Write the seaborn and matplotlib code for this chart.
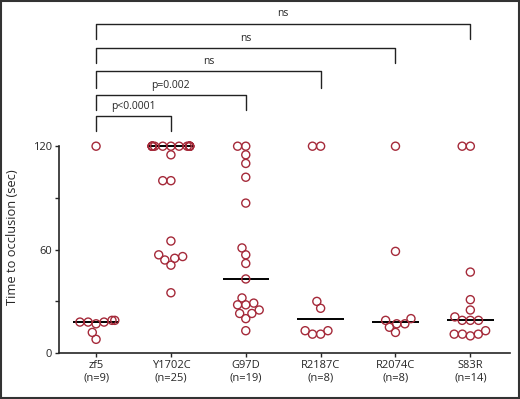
import matplotlib
matplotlib.use('Agg')
import matplotlib.pyplot as plt
import seaborn as sns
import numpy as np
import pandas as pd
from matplotlib.patches import Rectangle

# Time to occlusion (sec) per zebrafish line
groups = ['zf5', 'Y1702C', 'G97D', 'R2187C', 'R2074C', 'S83R']
zf5 = [120, 18, 19, 18, 19, 18, 17, 12, 8]
y1702c = [120] * 15 + [115, 100, 100, 65, 57, 56, 55, 54, 51, 35]
g97d = [120, 120, 115, 110, 102, 87, 61, 57, 52, 43, 32, 29, 28, 28, 25, 23, 23, 20, 13]
r2187c = [120, 120, 30, 26, 13, 11, 11, 13]
r2074c = [120, 59, 20, 19, 17, 17, 15, 12]
s83r = [120, 120, 47, 31, 25, 21, 19, 19, 19, 13, 11, 10, 11, 11]
values = [zf5, y1702c, g97d, r2187c, r2074c, s83r]

# significance brackets: (right group index, label, bar height, leg bottom)
comparisons = [(1, 'p<0.0001', 137.6, 128.7),
               (2, 'p=0.002', 149.6, 141),
               (3, 'ns', 163.6, 154),
               (4, 'ns', 177, 168),
               (5, 'ns', 191, 182)]

df = pd.DataFrame({'group': [g for g, v in zip(groups, values) for _ in v],
                   'time': [t for v in values for t in v]})
labels = ['{}\n(n={})'.format(g, len(v)) for g, v in zip(groups, values)]

sns.set_style('ticks')
plt.rcParams['font.family'] = ['Open Sans', 'DejaVu Sans']

fig = plt.figure(figsize=(5.2, 3.99), dpi=100)
ax = fig.add_axes([0.1135, 0.115, 0.868, 0.86])

red = '#a52a3a'
# lay the swarm out first, then freeze it
sns.swarmplot(data=df, x='group', y='time', order=groups, ax=ax, size=5.6,
              color=red, linewidth=0, warn_thresh=1)
ax.set_xlim(-0.495, 5.535)
ax.set_ylim(0, 199)
fig.canvas.draw()
for coll in ax.collections:
    # freeze the swarm positions, keep the spread narrow, then style markers
    if 'draw' in coll.__dict__:
        del coll.__dict__['draw']
    off = np.asarray(coll.get_offsets(), dtype=float)
    if len(off):
        mid = np.round(off[:, 0])
        off[:, 0] = mid + np.clip(off[:, 0] - mid, -0.25, 0.25)
        coll.set_offsets(off)
    coll.set_sizes([5.8 ** 2])
    coll.set_facecolor('none')
    coll.set_edgecolor(red)
    coll.set_linewidth(1.0)

# median lines
sns.boxplot(data=df, x='group', y='time', order=groups, ax=ax, width=0.62,
            showbox=False, showcaps=False, showfliers=False,
            whiskerprops={'visible': False},
            medianprops={'color': 'k', 'linewidth': 1.4})

# brackets
for j, lab, top, leg in comparisons:
    ax.plot([0, 0, j, j], [leg, top, top, leg], color='#222222', lw=1.0,
            clip_on=False)
    ax.text(j / 2, top + 2.5, lab, ha='center', va='bottom', fontsize=7.5)

ax.set_xlim(-0.495, 5.535)
ax.set_ylim(0, 199)
ax.set_yticks([0, 60, 120])
ax.set_yticks([30, 90], minor=True)
ax.set_xticks(range(len(groups)))
ax.set_xticklabels(labels)
ax.tick_params(axis='both', labelsize=8, length=3, width=1, pad=2)
ax.tick_params(axis='y', which='minor', length=3, width=1)
ax.set_xlabel('')
ax.set_ylabel('Time to occlusion (sec)', fontsize=9.3)
ax.yaxis.set_label_coords(-0.088, 0.338)

ax.spines['top'].set_visible(False)
ax.spines['right'].set_visible(False)
ax.spines['left'].set_bounds(0, 120)
ax.spines['left'].set_linewidth(1.2)
ax.spines['bottom'].set_linewidth(1.2)

# figure frame
fig.patches.append(Rectangle((0.002, 0.003), 0.996, 0.994, transform=fig.transFigure,
                             fill=False, edgecolor='#333333', lw=1.5))

fig.savefig('out.png', dpi=100)
